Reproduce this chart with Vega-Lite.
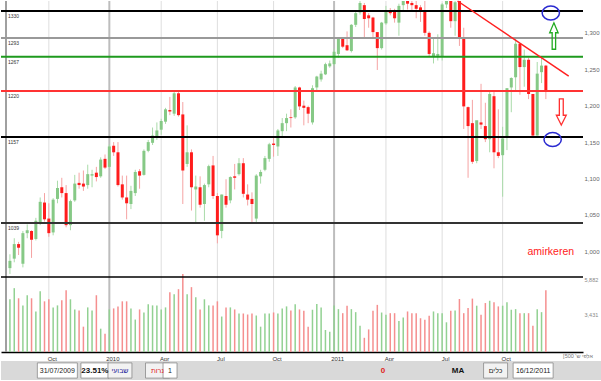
{
  "$schema": "https://vega.github.io/schema/vega-lite/v6.json",
  "padding": 0,
  "background": "white",
  "spacing": 0,
  "config": {"view": {"stroke": null}, "font": "Liberation Sans"},
  "datasets": {
    "weekly": [
      {"date":"2009-07-31","open":977,"high":996,"low":969,"close":987,"volume":4425},
      {"date":"2009-08-07","open":990,"high":1018,"low":985,"close":1010,"volume":5153},
      {"date":"2009-08-14","open":1010,"high":1013,"low":995,"close":1005,"volume":4491},
      {"date":"2009-08-21","open":983,"high":1028,"low":978,"close":1025,"volume":4027},
      {"date":"2009-08-28","open":1025,"high":1037,"low":1018,"close":1029,"volume":4690},
      {"date":"2009-09-04","open":1028,"high":1029,"low":991,"close":1016,"volume":4491},
      {"date":"2009-09-11","open":1017,"high":1046,"low":1015,"close":1042,"volume":3630},
      {"date":"2009-09-18","open":1040,"high":1074,"low":1036,"close":1068,"volume":4955},
      {"date":"2009-09-25","open":1067,"high":1080,"low":1041,"close":1044,"volume":4292},
      {"date":"2009-10-02","open":1045,"high":1066,"low":1020,"close":1025,"volume":4425},
      {"date":"2009-10-09","open":1026,"high":1073,"low":1022,"close":1071,"volume":3895},
      {"date":"2009-10-16","open":1072,"high":1097,"low":1066,"close":1087,"volume":4027},
      {"date":"2009-10-23","open":1088,"high":1101,"low":1074,"close":1080,"volume":4358},
      {"date":"2009-10-30","open":1080,"high":1091,"low":1033,"close":1036,"volume":5021},
      {"date":"2009-11-06","open":1036,"high":1071,"low":1029,"close":1069,"volume":4425},
      {"date":"2009-11-13","open":1070,"high":1105,"low":1068,"close":1093,"volume":3762},
      {"date":"2009-11-20","open":1094,"high":1108,"low":1086,"close":1091,"volume":3696},
      {"date":"2009-11-27","open":1093,"high":1111,"low":1083,"close":1089,"volume":2636},
      {"date":"2009-12-04","open":1091,"high":1119,"low":1086,"close":1106,"volume":3895},
      {"date":"2009-12-11","open":1104,"high":1112,"low":1088,"close":1106,"volume":3696},
      {"date":"2009-12-18","open":1108,"high":1116,"low":1096,"close":1102,"volume":4690},
      {"date":"2009-12-25","open":1103,"high":1129,"low":1101,"close":1126,"volume":2504},
      {"date":"2010-01-01","open":1127,"high":1133,"low":1113,"close":1115,"volume":2173},
      {"date":"2010-01-08","open":1116,"high":1147,"low":1114,"close":1144,"volume":3762},
      {"date":"2010-01-15","open":1145,"high":1150,"low":1131,"close":1136,"volume":3829},
      {"date":"2010-01-22","open":1136,"high":1150,"low":1089,"close":1091,"volume":3961},
      {"date":"2010-01-29","open":1092,"high":1104,"low":1071,"close":1074,"volume":4292},
      {"date":"2010-02-05","open":1074,"high":1104,"low":1044,"close":1066,"volume":4292},
      {"date":"2010-02-12","open":1065,"high":1090,"low":1058,"close":1083,"volume":3829},
      {"date":"2010-02-19","open":1080,"high":1112,"low":1076,"close":1109,"volume":3100},
      {"date":"2010-02-26","open":1110,"high":1113,"low":1086,"close":1104,"volume":3762},
      {"date":"2010-03-05","open":1105,"high":1140,"low":1104,"close":1138,"volume":3564},
      {"date":"2010-03-12","open":1138,"high":1153,"low":1136,"close":1150,"volume":4094},
      {"date":"2010-03-19","open":1149,"high":1170,"low":1146,"close":1159,"volume":4027},
      {"date":"2010-03-26","open":1157,"high":1177,"low":1153,"close":1166,"volume":4027},
      {"date":"2010-04-02","open":1167,"high":1182,"low":1160,"close":1179,"volume":3762},
      {"date":"2010-04-09","open":1178,"high":1197,"low":1175,"close":1195,"volume":3895},
      {"date":"2010-04-16","open":1194,"high":1212,"low":1187,"close":1192,"volume":4888},
      {"date":"2010-04-23","open":1189,"high":1219,"low":1186,"close":1217,"volume":4756},
      {"date":"2010-04-30","open":1217,"high":1220,"low":1185,"close":1187,"volume":5087},
      {"date":"2010-05-07","open":1188,"high":1205,"low":1065,"close":1111,"volume":6081},
      {"date":"2010-05-14","open":1120,"high":1173,"low":1116,"close":1136,"volume":4756},
      {"date":"2010-05-21","open":1136,"high":1140,"low":1056,"close":1088,"volume":5220},
      {"date":"2010-05-28","open":1085,"high":1104,"low":1040,"close":1089,"volume":4557},
      {"date":"2010-06-04","open":1088,"high":1103,"low":1060,"close":1064,"volume":3762},
      {"date":"2010-06-11","open":1065,"high":1093,"low":1042,"close":1091,"volume":4425},
      {"date":"2010-06-18","open":1092,"high":1119,"low":1088,"close":1117,"volume":4027},
      {"date":"2010-06-25","open":1118,"high":1131,"low":1072,"close":1076,"volume":4027},
      {"date":"2010-07-02","open":1076,"high":1080,"low":1011,"close":1022,"volume":4292},
      {"date":"2010-07-09","open":1028,"high":1078,"low":1018,"close":1078,"volume":3299},
      {"date":"2010-07-16","open":1076,"high":1099,"low":1060,"close":1064,"volume":3895},
      {"date":"2010-07-23","open":1070,"high":1103,"low":1066,"close":1102,"volume":3895},
      {"date":"2010-07-30","open":1103,"high":1120,"low":1085,"close":1101,"volume":3762},
      {"date":"2010-08-06","open":1106,"high":1128,"low":1104,"close":1121,"volume":3497},
      {"date":"2010-08-13","open":1121,"high":1128,"low":1074,"close":1079,"volume":3497},
      {"date":"2010-08-20","open":1078,"high":1092,"low":1063,"close":1071,"volume":3431},
      {"date":"2010-08-27","open":1072,"high":1081,"low":1040,"close":1065,"volume":3497},
      {"date":"2010-09-03","open":1045,"high":1106,"low":1039,"close":1104,"volume":3365},
      {"date":"2010-09-10","open":1103,"high":1112,"low":1093,"close":1109,"volume":2636},
      {"date":"2010-09-17","open":1112,"high":1131,"low":1110,"close":1128,"volume":3497},
      {"date":"2010-09-24","open":1127,"high":1149,"low":1123,"close":1147,"volume":3497},
      {"date":"2010-10-01","open":1148,"high":1157,"low":1130,"close":1146,"volume":3564},
      {"date":"2010-10-08","open":1144,"high":1168,"low":1131,"close":1166,"volume":3497},
      {"date":"2010-10-15","open":1165,"high":1183,"low":1158,"close":1176,"volume":3829},
      {"date":"2010-10-22","open":1176,"high":1189,"low":1165,"close":1183,"volume":3961},
      {"date":"2010-10-29","open":1184,"high":1195,"low":1170,"close":1183,"volume":3696},
      {"date":"2010-11-05","open":1184,"high":1227,"low":1182,"close":1225,"volume":4094},
      {"date":"2010-11-12","open":1225,"high":1226,"low":1194,"close":1199,"volume":3762},
      {"date":"2010-11-19","open":1200,"high":1207,"low":1173,"close":1197,"volume":3676},
      {"date":"2010-11-26","open":1198,"high":1200,"low":1176,"close":1189,"volume":2636},
      {"date":"2010-12-03","open":1177,"high":1228,"low":1174,"close":1224,"volume":3742},
      {"date":"2010-12-10","open":1225,"high":1241,"low":1219,"close":1240,"volume":4114},
      {"date":"2010-12-17","open":1236,"high":1248,"low":1233,"close":1244,"volume":3895},
      {"date":"2010-12-24","open":1243,"high":1259,"low":1242,"close":1257,"volume":2418},
      {"date":"2010-12-31","open":1254,"high":1262,"low":1252,"close":1258,"volume":2305},
      {"date":"2011-01-07","open":1257,"high":1278,"low":1255,"close":1274,"volume":4027},
      {"date":"2011-01-14","open":1271,"high":1294,"low":1266,"close":1292,"volume":3782},
      {"date":"2011-01-21","open":1292,"high":1294,"low":1279,"close":1281,"volume":3517},
      {"date":"2011-01-28","open":1283,"high":1302,"low":1275,"close":1276,"volume":4007},
      {"date":"2011-02-04","open":1275,"high":1312,"low":1273,"close":1311,"volume":3782},
      {"date":"2011-02-11","open":1311,"high":1330,"low":1308,"close":1327,"volume":3584},
      {"date":"2011-02-18","open":1328,"high":1344,"low":1325,"close":1341,"volume":2702},
      {"date":"2011-02-25","open":1338,"high":1341,"low":1293,"close":1319,"volume":1908},
      {"date":"2011-03-04","open":1324,"high":1327,"low":1307,"close":1320,"volume":2457},
      {"date":"2011-03-11","open":1321,"high":1322,"low":1293,"close":1301,"volume":3676},
      {"date":"2011-03-18","open":1301,"high":1301,"low":1249,"close":1279,"volume":4060},
      {"date":"2011-03-25","open":1279,"high":1315,"low":1277,"close":1314,"volume":3560},
      {"date":"2011-04-01","open":1313,"high":1337,"low":1311,"close":1331,"volume":3411},
      {"date":"2011-04-08","open":1331,"high":1334,"low":1324,"close":1327,"volume":3517},
      {"date":"2011-04-15","open":1329,"high":1333,"low":1314,"close":1320,"volume":3517},
      {"date":"2011-04-22","open":1314,"high":1340,"low":1296,"close":1337,"volume":3014},
      {"date":"2011-04-29","open":1338,"high":1364,"low":1331,"close":1364,"volume":3232},
      {"date":"2011-05-06","open":1365,"high":1370,"low":1332,"close":1340,"volume":3630},
      {"date":"2011-05-13","open":1341,"high":1355,"low":1331,"close":1338,"volume":3517},
      {"date":"2011-05-20","open":1338,"high":1346,"low":1320,"close":1333,"volume":3517},
      {"date":"2011-05-27","open":1335,"high":1338,"low":1315,"close":1331,"volume":3186},
      {"date":"2011-06-03","open":1331,"high":1346,"low":1296,"close":1300,"volume":3080},
      {"date":"2011-06-10","open":1300,"high":1302,"low":1268,"close":1271,"volume":3345},
      {"date":"2011-06-17","open":1268,"high":1292,"low":1258,"close":1272,"volume":3630},
      {"date":"2011-06-24","open":1268,"high":1298,"low":1262,"close":1271,"volume":3517},
      {"date":"2011-07-01","open":1268,"high":1341,"low":1262,"close":1339,"volume":3517},
      {"date":"2011-07-08","open":1339,"high":1356,"low":1334,"close":1344,"volume":2921},
      {"date":"2011-07-15","open":1344,"high":1344,"low":1307,"close":1316,"volume":3676},
      {"date":"2011-07-22","open":1316,"high":1347,"low":1296,"close":1342,"volume":3700},
      {"date":"2011-07-29","open":1345,"high":1347,"low":1282,"close":1292,"volume":4445},
      {"date":"2011-08-05","open":1292,"high":1307,"low":1168,"close":1199,"volume":3517},
      {"date":"2011-08-12","open":1198,"high":1199,"low":1101,"close":1172,"volume":3850},
      {"date":"2011-08-19","open":1176,"high":1208,"low":1120,"close":1123,"volume":4470},
      {"date":"2011-08-26","open":1124,"high":1177,"low":1121,"close":1180,"volume":4007},
      {"date":"2011-09-02","open":1177,"high":1230,"low":1168,"close":1174,"volume":3411},
      {"date":"2011-09-09","open":1172,"high":1204,"low":1150,"close":1154,"volume":4180},
      {"date":"2011-09-16","open":1154,"high":1220,"low":1136,"close":1216,"volume":4330},
      {"date":"2011-09-23","open":1213,"high":1220,"low":1114,"close":1136,"volume":4225},
      {"date":"2011-09-30","open":1136,"high":1195,"low":1128,"close":1131,"volume":3960},
      {"date":"2011-10-07","open":1132,"high":1171,"low":1075,"close":1155,"volume":4007},
      {"date":"2011-10-14","open":1158,"high":1224,"low":1139,"close":1224,"volume":4225},
      {"date":"2011-10-21","open":1225,"high":1239,"low":1191,"close":1238,"volume":3742},
      {"date":"2011-10-28","open":1239,"high":1293,"low":1221,"close":1285,"volume":3782},
      {"date":"2011-11-04","open":1285,"high":1285,"low":1215,"close":1253,"volume":3517},
      {"date":"2011-11-11","open":1253,"high":1277,"low":1226,"close":1263,"volume":3517},
      {"date":"2011-11-18","open":1263,"high":1266,"low":1209,"close":1216,"volume":3517},
      {"date":"2011-11-25","open":1216,"high":1216,"low":1158,"close":1159,"volume":2702},
      {"date":"2011-12-02","open":1159,"high":1260,"low":1159,"close":1244,"volume":3782},
      {"date":"2011-12-09","open":1246,"high":1267,"low":1231,"close":1255,"volume":3584},
      {"date":"2011-12-16","open":1255,"high":1256,"low":1209,"close":1219,"volume":5021}
    ],
    "levels": [
      {"level":1330,"name":"1330"},
      {"level":1293,"name":"1293"},
      {"level":1267,"name":"1267"},
      {"level":1220,"name":"1220"},
      {"level":1157,"name":"1157"},
      {"level":1039,"name":"1039"}
    ],
    "quarters": [
      {"date":"2009-10-02"},{"date":"2010-01-08"},{"date":"2010-04-02"},{"date":"2010-07-02"},{"date":"2010-10-01"},
      {"date":"2011-01-07"},{"date":"2011-04-01"},{"date":"2011-07-01"},{"date":"2011-10-07"}
    ],
    "toolbar": [
      {"item": "31/07/2009", "kind": "plain"},
      {"item": "23.51%", "kind": "bold"},
      {"item": "שבועי", "kind": "blue"},
      {"item": "נרות", "kind": "red"},
      {"item": "1", "kind": "plain"},
      {"item": "0", "kind": "redbold"},
      {"item": "MA", "kind": "bold"},
      {"item": "כלים", "kind": "plain"},
      {"item": "16/12/2011", "kind": "plain"}
    ]
  },
  "vconcat": [
    {
      "bounds": "flush",
      "spacing": 0,
      "vconcat": [
        {
          "width": 582,
          "height": 276,
          "layer": [
            {
              "data": {"name": "quarters"},
              "mark": {"type": "rule"},
              "encoding": {
                "x": {"field": "date", "type": "temporal", "axis": null,
                  "scale": {"type": "utc", "domain": [{"year":2009,"month":7,"date":24,"hours":15,"minutes":11,"utc":true},{"year":2012,"month":2,"date":6,"hours":1,"minutes":12,"utc":true}]}},
                "color": {"condition": {"test": "utcmonth(datum.date) === 0", "value": "#bdbdbd"}, "value": "#dedede"},
                "strokeWidth": {"condition": {"test": "utcmonth(datum.date) === 0", "value": 2}, "value": 1}
              }
            },
            {
              "data": {"name": "weekly"},
              "mark": {"type": "rule", "strokeWidth": 1, "clip": true},
              "encoding": {
                "x": {"field": "date", "type": "temporal", "axis": null,
                  "scale": {"type": "utc", "domain": [{"year":2009,"month":7,"date":24,"hours":15,"minutes":11,"utc":true},{"year":2012,"month":2,"date":6,"hours":1,"minutes":12,"utc":true}]}},
                "y": {"field": "low", "type": "quantitative", "scale": {"domain": [964.8, 1343.7], "zero": false, "nice": false},
                  "axis": {"orient": "right", "values": [1000,1050,1100,1150,1200,1250,1300], "format": ",.0f", "title": null, "ticks": false, "domain": false, "grid": false, "labelFontSize": 6, "labelColor": "#666", "labelPadding": 1}},
                "y2": {"field": "high"},
                "color": {"condition": {"test": "datum.close >= datum.open", "value": "#a9dba9"}, "value": "#f5a3a3"}
              }
            },
            {
              "data": {"name": "weekly"},
              "mark": {"type": "bar", "width": 3, "clip": true},
              "encoding": {
                "x": {"field": "date", "type": "temporal", "scale": {"type": "utc", "domain": [{"year":2009,"month":7,"date":24,"hours":15,"minutes":11,"utc":true},{"year":2012,"month":2,"date":6,"hours":1,"minutes":12,"utc":true}]}},
                "y": {"field": "open", "type": "quantitative", "scale": {"domain": [964.8, 1343.7], "zero": false, "nice": false}},
                "y2": {"field": "close"},
                "color": {"condition": {"test": "datum.close >= datum.open", "value": "#86c986"}, "value": "#ff1c1c"}
              }
            },
            {
              "data": {"values": [{"edge": "left"}]},
              "mark": {"type": "rule", "color": "#a0a0a0", "strokeWidth": 2},
              "encoding": {
                "x": {"datum": {"year":2009,"month":7,"date":24,"hours":15,"minutes":11,"utc":true}, "type": "temporal", "scale": {"type": "utc", "domain": [{"year":2009,"month":7,"date":24,"hours":15,"minutes":11,"utc":true},{"year":2012,"month":2,"date":6,"hours":1,"minutes":12,"utc":true}]}}
              }
            },
            {
              "data": {"name": "levels"},
              "mark": {"type": "rule", "strokeWidth": 2},
              "encoding": {
                "y": {"field": "level", "type": "quantitative", "scale": {"domain": [964.8, 1343.7], "zero": false, "nice": false}},
                "color": {"field": "name", "type": "nominal", "legend": null,
                  "scale": {"domain": ["1330","1293","1267","1220","1157","1039"], "range": ["#000000","#999999","#1e9a1e","#ff3333","#000000","#333333"]}},
                "strokeWidth": {"condition": {"test": "datum.level === 1039", "value": 1.2}, "value": 2}
              }
            },
            {
              "data": {"name": "levels"},
              "mark": {"type": "text", "align": "left", "baseline": "top", "dx": 2, "dy": 3, "fontSize": 5, "color": "#333"},
              "encoding": {
                "x": {"datum": {"year":2009,"month":7,"date":24,"hours":15,"minutes":11,"utc":true}, "type": "temporal", "scale": {"type": "utc", "domain": [{"year":2009,"month":7,"date":24,"hours":15,"minutes":11,"utc":true},{"year":2012,"month":2,"date":6,"hours":1,"minutes":12,"utc":true}]}},
                "y": {"field": "level", "type": "quantitative", "scale": {"domain": [964.8, 1343.7], "zero": false, "nice": false}},
                "text": {"field": "name"}
              }
            },
            {
              "data": {"values": [{"date": "2011-07-26", "date2": "2012-01-22", "p1": 1343.7, "p2": 1240.7}]},
              "mark": {"type": "rule", "color": "#ff2020", "strokeWidth": 1.5},
              "encoding": {
                "x": {"field": "date", "type": "temporal", "scale": {"type": "utc", "domain": [{"year":2009,"month":7,"date":24,"hours":15,"minutes":11,"utc":true},{"year":2012,"month":2,"date":6,"hours":1,"minutes":12,"utc":true}]}},
                "x2": {"field": "date2"},
                "y": {"field": "p1", "type": "quantitative", "scale": {"domain": [964.8, 1343.7], "zero": false, "nice": false}},
                "y2": {"field": "p2"}
              }
            },
            {
              "data": {"values": [{"date": "2011-12-24", "price": 1327.2}, {"date": "2011-12-27", "price": 1153.5}]},
              "mark": {"type": "point", "shape": "M-1,0 A1,0.8 0 1,1 1,0 A1,0.8 0 1,1 -1,0 Z", "filled": false, "stroke": "#2a2ad0", "strokeWidth": 1.5, "size": 300, "opacity": 1},
              "encoding": {
                "x": {"field": "date", "type": "temporal", "scale": {"type": "utc", "domain": [{"year":2009,"month":7,"date":24,"hours":15,"minutes":11,"utc":true},{"year":2012,"month":2,"date":6,"hours":1,"minutes":12,"utc":true}]}},
                "y": {"field": "price", "type": "quantitative", "scale": {"domain": [964.8, 1343.7], "zero": false, "nice": false}}
              }
            },
            {
              "data": {"values": [{"date": "2011-12-29", "price": 1295.6}]},
              "mark": {"type": "point", "shape": "M0,-1 L0.32,-0.25 L0.13,-0.25 L0.13,1 L-0.13,1 L-0.13,-0.25 L-0.32,-0.25 Z", "filled": false, "stroke": "#22aa22", "strokeWidth": 1.3, "size": 700, "opacity": 1},
              "encoding": {
                "x": {"field": "date", "type": "temporal", "scale": {"type": "utc", "domain": [{"year":2009,"month":7,"date":24,"hours":15,"minutes":11,"utc":true},{"year":2012,"month":2,"date":6,"hours":1,"minutes":12,"utc":true}]}},
                "y": {"field": "price", "type": "quantitative", "scale": {"domain": [964.8, 1343.7], "zero": false, "nice": false}}
              }
            },
            {
              "data": {"values": [{"date": "2012-01-10", "price": 1191.3}]},
              "mark": {"type": "point", "shape": "M0,1 L0.38,0.25 L0.15,0.25 L0.15,-1 L-0.15,-1 L-0.15,0.25 L-0.38,0.25 Z", "filled": false, "stroke": "#ff3030", "strokeWidth": 1.3, "size": 680, "opacity": 1},
              "encoding": {
                "x": {"field": "date", "type": "temporal", "scale": {"type": "utc", "domain": [{"year":2009,"month":7,"date":24,"hours":15,"minutes":11,"utc":true},{"year":2012,"month":2,"date":6,"hours":1,"minutes":12,"utc":true}]}},
                "y": {"field": "price", "type": "quantitative", "scale": {"domain": [964.8, 1343.7], "zero": false, "nice": false}}
              }
            },
            {
              "data": {"values": [{"date": "2011-12-24", "price": 999, "label": "amirkeren"}]},
              "mark": {"type": "text", "color": "#ff1a1a", "fontSize": 10.5, "font": "Liberation Sans", "align": "center", "baseline": "middle"},
              "encoding": {
                "x": {"field": "date", "type": "temporal", "scale": {"type": "utc", "domain": [{"year":2009,"month":7,"date":24,"hours":15,"minutes":11,"utc":true},{"year":2012,"month":2,"date":6,"hours":1,"minutes":12,"utc":true}]}},
                "y": {"field": "price", "type": "quantitative", "scale": {"domain": [964.8, 1343.7], "zero": false, "nice": false}},
                "text": {"field": "label"}
              }
            }
          ]
        },
        {
          "width": 582,
          "height": 75,
          "layer": [
            {
              "data": {"name": "quarters"},
              "mark": {"type": "rule"},
              "encoding": {
                "x": {"field": "date", "type": "temporal",
                  "scale": {"type": "utc", "domain": [{"year":2009,"month":7,"date":24,"hours":15,"minutes":11,"utc":true},{"year":2012,"month":2,"date":6,"hours":1,"minutes":12,"utc":true}]},
                  "axis": {"values": [{"year":2009,"month":10,"date":2,"utc":true},{"year":2010,"month":1,"date":8,"utc":true},{"year":2010,"month":4,"date":2,"utc":true},{"year":2010,"month":7,"date":2,"utc":true},{"year":2010,"month":10,"date":1,"utc":true},{"year":2011,"month":1,"date":7,"utc":true},{"year":2011,"month":4,"date":1,"utc":true},{"year":2011,"month":7,"date":1,"utc":true},{"year":2011,"month":10,"date":7,"utc":true}],
                    "labelExpr": "utcmonth(datum.value) === 0 ? utcFormat(datum.value, '%Y') : utcFormat(datum.value, '%b')",
                    "grid": false, "ticks": false, "domain": true, "domainColor": "#000", "domainWidth": 1.5, "title": null,
                    "labelFontSize": 6, "labelColor": "#333", "labelPadding": 3, "labelOffset": 3}},
                "color": {"condition": {"test": "utcmonth(datum.date) === 0", "value": "#bdbdbd"}, "value": "#dedede"},
                "strokeWidth": {"condition": {"test": "utcmonth(datum.date) === 0", "value": 2}, "value": 1}
              }
            },
            {
              "data": {"name": "weekly"},
              "mark": {"type": "bar", "width": 1.5},
              "encoding": {
                "x": {"field": "date", "type": "temporal",
                  "scale": {"type": "utc", "domain": [{"year":2009,"month":7,"date":24,"hours":15,"minutes":11,"utc":true},{"year":2012,"month":2,"date":6,"hours":1,"minutes":12,"utc":true}]}},
                "y": {"field": "volume", "type": "quantitative", "scale": {"domain": [980, 5882], "zero": false, "nice": false},
                  "axis": {"orient": "right", "values": [3431, 5882], "format": ",.0f", "title": null, "ticks": false, "domain": false, "grid": false, "labelFontSize": 5.5, "labelColor": "#888", "labelPadding": 1, "labelFlush": true}},
                "y2": {"datum": 980},
                "color": {"condition": {"test": "datum.close >= datum.open", "value": "#92d192"}, "value": "#f58f8f"}
              }
            },
            {
              "data": {"values": [{"edge": "left"}]},
              "mark": {"type": "rule", "color": "#a0a0a0", "strokeWidth": 2},
              "encoding": {
                "x": {"datum": {"year":2009,"month":7,"date":24,"hours":15,"minutes":11,"utc":true}, "type": "temporal", "scale": {"type": "utc", "domain": [{"year":2009,"month":7,"date":24,"hours":15,"minutes":11,"utc":true},{"year":2012,"month":2,"date":6,"hours":1,"minutes":12,"utc":true}]}}
              }
            },
            {
              "data": {"values": [{"vmax": 5882}]},
              "mark": {"type": "rule", "color": "#000", "strokeWidth": 1.5},
              "encoding": {
                "y": {"field": "vmax", "type": "quantitative", "scale": {"domain": [980, 5882], "zero": false, "nice": false}}
              }
            },
            {
              "data": {"values": [{"note": "[אלפי ש' 500"}]},
              "mark": {"type": "text", "fontSize": 5.5, "color": "#777", "align": "center", "baseline": "top", "dy": 2},
              "encoding": {
                "x": {"datum": {"year":2012,"month":2,"date":6,"hours":1,"minutes":12,"utc":true}, "type": "temporal", "scale": {"type": "utc", "domain": [{"year":2009,"month":7,"date":24,"hours":15,"minutes":11,"utc":true},{"year":2012,"month":2,"date":6,"hours":1,"minutes":12,"utc":true}]}},
                "y": {"datum": 980, "type": "quantitative", "scale": {"domain": [980, 5882], "zero": false, "nice": false}},
                "text": {"field": "note"}
              }
            }
          ]
        }
      ]
    },
    {
      "width": 601,
      "height": 19,
      "view": {"fill": "#d9d9d9", "stroke": null},
      "data": {"name": "toolbar"},
      "encoding": {
        "x": {"field": "item", "type": "nominal", "axis": null,
          "scale": {"type": "point", "padding": 0.5, "domain": ["s0","s1","s2","s3","31/07/2009","s5","s6","23.51%","s8","שבועי","s10","s11","נרות","1","s14","s15","s16","s17","s18","s19","s20","s21","s22","s23","s24","s25","s26","s27","s28","s29","0","s31","s32","s33","s34","s35","MA","s37","s38","כלים","s40","s41","16/12/2011","s43","s44","s45","s46","s47"]}}
      },
      "layer": [
        {
          "transform": [{"filter": "length(datum.item) >= 10"}],
          "mark": {"type": "bar", "width": 40, "fill": "#ffffff", "stroke": "#8a8a8a", "strokeWidth": 0.8},
          "encoding": {
            "y": {"datum": 0.1, "type": "quantitative", "scale": {"domain": [0, 1]}, "axis": null},
            "y2": {"datum": 0.9}
          }
        },
        {
          "transform": [{"filter": "datum.item === '23.51%'"}],
          "mark": {"type": "bar", "width": 28, "fill": "#ffffff", "stroke": "#8a8a8a", "strokeWidth": 0.8},
          "encoding": {
            "y": {"datum": 0.1, "type": "quantitative", "scale": {"domain": [0, 1]}, "axis": null},
            "y2": {"datum": 0.9}
          }
        },
        {
          "transform": [{"filter": "datum.kind === 'blue' || datum.kind === 'red' || datum.item === 'כלים'"}],
          "mark": {"type": "bar", "width": 24, "fill": "#f2f2f2", "stroke": "#8a8a8a", "strokeWidth": 0.8},
          "encoding": {
            "y": {"datum": 0.1, "type": "quantitative", "scale": {"domain": [0, 1]}, "axis": null},
            "y2": {"datum": 0.9}
          }
        },
        {
          "transform": [{"filter": "datum.item === '1'"}],
          "mark": {"type": "bar", "width": 14, "fill": "#ffffff", "stroke": "#8a8a8a", "strokeWidth": 0.8},
          "encoding": {
            "y": {"datum": 0.1, "type": "quantitative", "scale": {"domain": [0, 1]}, "axis": null},
            "y2": {"datum": 0.9}
          }
        },
        {
          "transform": [{"filter": "datum.kind !== 'bold' && datum.kind !== 'redbold'"}],
          "mark": {"type": "text", "fontSize": 7, "baseline": "middle", "align": "center"},
          "encoding": {
            "text": {"field": "item"},
            "color": {"condition": [{"test": "datum.kind === 'blue'", "value": "#1a1a99"}, {"test": "datum.kind === 'red'", "value": "#e02020"}], "value": "#222222"}
          }
        },
        {
          "transform": [{"filter": "datum.kind === 'bold' || datum.kind === 'redbold'"}],
          "mark": {"type": "text", "fontSize": 8, "fontWeight": "bold", "baseline": "middle", "align": "center"},
          "encoding": {
            "text": {"field": "item"},
            "color": {"condition": {"test": "datum.kind === 'redbold'", "value": "#e02020"}, "value": "#111111"}
          }
        }
      ]
    }
  ]
}
